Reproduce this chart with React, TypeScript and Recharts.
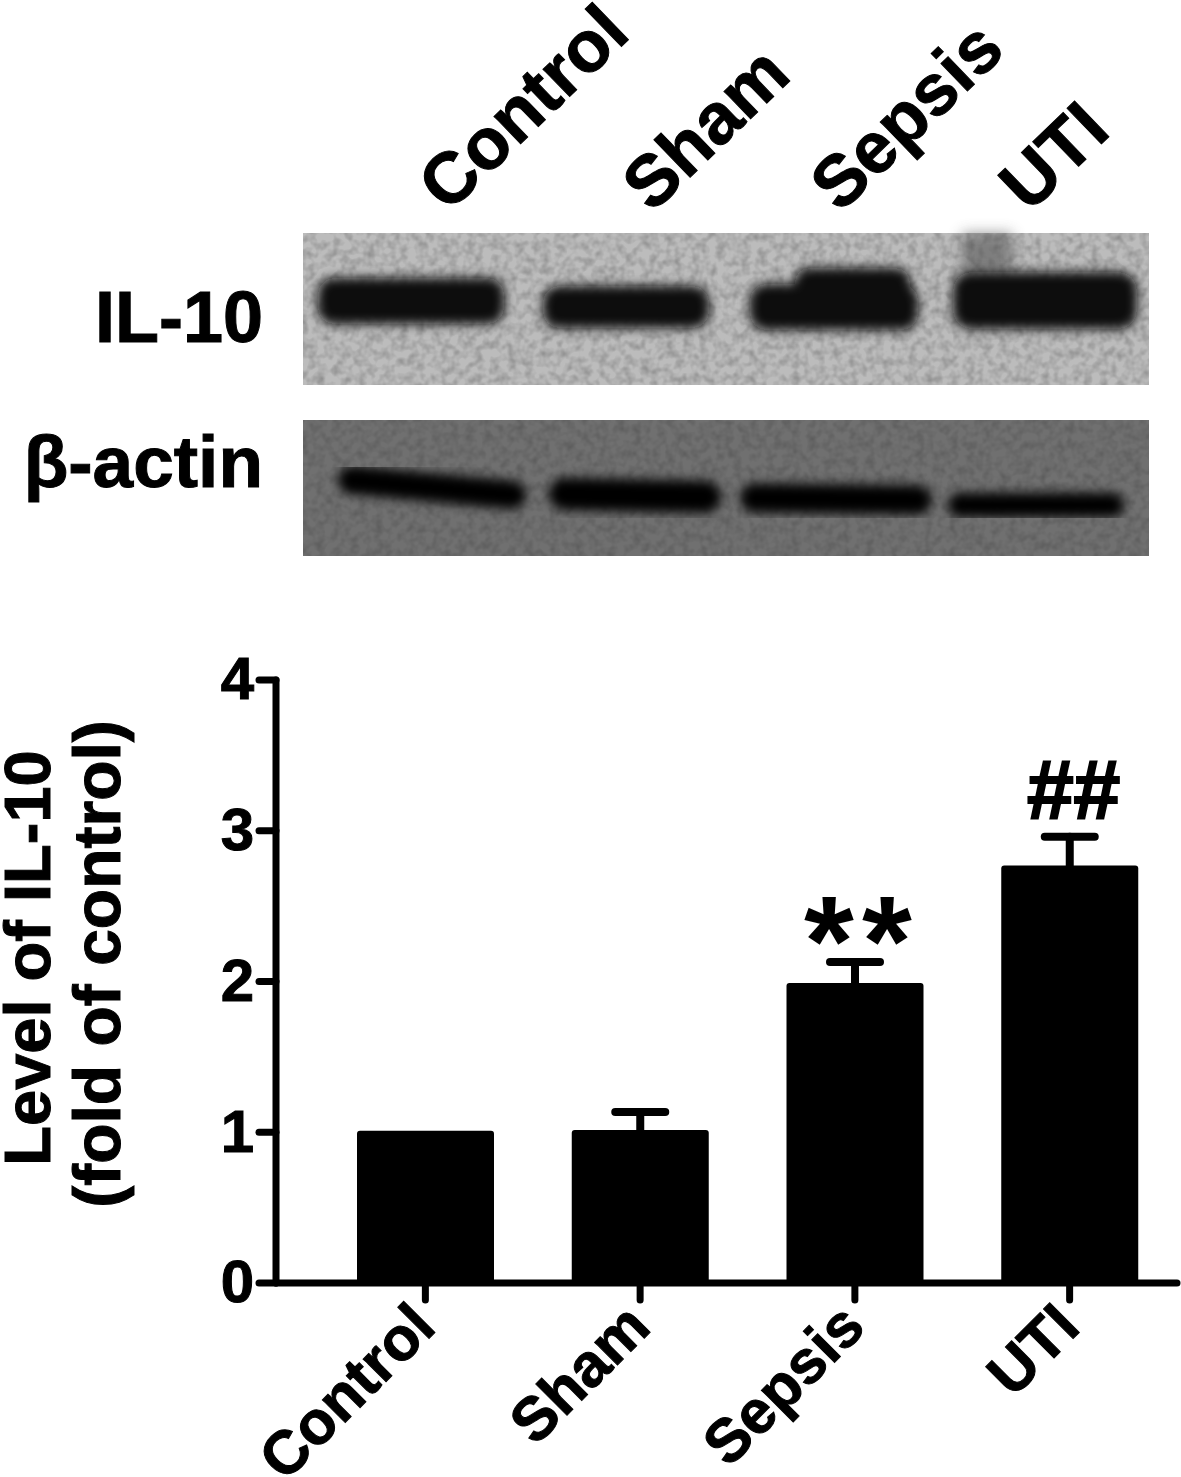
import React from "react";
import { ComposedChart, Bar, XAxis, YAxis, ErrorBar, ReferenceDot } from "recharts";

const categories = ["Control", "Sham", "Sepsis", "UTI"];
const values = [1.01, 1.015, 1.99, 2.77];
const errors = [0, 0.12, 0.14, 0.19];
const yTicks = [0, 1, 2, 3, 4];
const marks = [
  { category: "Sepsis", y: 1.864, text: "**" },
  { category: "UTI", y: 3.07, text: "##" },
];
const data = categories.map((c, i) => ({ name: c, value: values[i], err: errors[i] }));
const FONT = "'Liberation Sans', Arial, sans-serif";
const heavy = { fontFamily: FONT, fontWeight: 700, fill: "#000", stroke: "#000", strokeWidth: 1 };
const axisStroke = { stroke: "#000", strokeWidth: 7, strokeLinecap: "round" as const };

const XTick = (p: any) => (
  <g transform={`translate(${p.x - 10},${p.y + 5})`}>
    <text textAnchor="end" transform="rotate(-45)" fontSize={61} dy={32} {...heavy}>
      {p.payload.value}
    </text>
  </g>
);

const Blots = () => (
  <svg width={1181} height={620} style={{ position: "absolute", left: 0, top: 0 }}>
    <defs>
      <filter id="b1" x="-30%" y="-50%" width="160%" height="200%"><feGaussianBlur stdDeviation="7" /></filter>
      <filter id="b2" x="-20%" y="-50%" width="140%" height="200%"><feGaussianBlur stdDeviation="5.5" /></filter>
      <filter id="noise" x="0" y="0" width="100%" height="100%">
        <feTurbulence type="fractalNoise" baseFrequency="0.12" numOctaves={2} seed={4} />
        <feColorMatrix type="matrix" values="0 0 0 0 0  0 0 0 0 0  0 0 0 0 0  1.6 0 0 0 -0.6" />
      </filter>
    </defs>
    <rect x={303} y={233} width={846} height={152} fill="#bcbcbc" />
    <rect x={303} y={233} width={846} height={152} filter="url(#noise)" opacity={0.28} />
    <rect x={962} y={233} width={50} height={40} fill="#555" filter="url(#b1)" opacity={0.6} />
    <g filter="url(#b2)" fill="#080808">
      <rect x={318} y={278} width={186} height={46} rx={16} />
      <rect x={543} y={286} width={166} height={42} rx={16} />
      <rect x={750} y={284} width={168} height={46} rx={16} />
      <rect x={795} y={268} width={115} height={40} rx={14} />
      <rect x={953} y={272} width={184} height={57} rx={18} />
    </g>
    <rect x={303} y={420} width={846} height={136} fill="#707070" />
    <rect x={303} y={420} width={846} height={136} filter="url(#noise)" opacity={0.2} />
    <g filter="url(#b2)" stroke="#060606" fill="none" strokeLinecap="round">
      <line x1={352} y1={480} x2={512} y2={495} strokeWidth={28} />
      <line x1={565} y1={494} x2={705} y2={497} strokeWidth={32} />
      <line x1={755} y1={498} x2={917} y2={500} strokeWidth={29} />
      <line x1={960} y1={505} x2={1112} y2={505} strokeWidth={24} />
    </g>
    <g {...heavy}>
      <text x={263} y={342} textAnchor="end" fontSize={72}>IL-10</text>
      <text x={263} y={487} textAnchor="end" fontSize={73}>β-actin</text>
      <text transform="translate(448,214) rotate(-44)" fontSize={72}>Control</text>
      <text transform="translate(652,214) rotate(-44)" fontSize={72}>Sham</text>
      <text transform="translate(840,214) rotate(-44)" fontSize={72}>Sepsis</text>
      <text transform="translate(1029,214) rotate(-44)" fontSize={72}>UTI</text>
    </g>
  </svg>
);

export default function App() {
  return (
    <div style={{ position: "absolute", left: 0, top: 0, width: 1181, height: 1477 }}>
      <Blots />
      <div style={{ position: "absolute", left: 0, top: 0 }}>
        <ComposedChart width={1181} height={1477} data={data} margin={{ top: 680, right: 4, bottom: 0, left: 0 }}>
          <XAxis
            dataKey="name"
            padding={{ left: 42, right: 0 }}
            axisLine={axisStroke}
            tickLine={axisStroke}
            tickSize={17}
            height={194}
            interval={0}
            tick={<XTick />}
          />
          <YAxis
            type="number"
            domain={[0, 4]}
            ticks={yTicks}
            width={276}
            axisLine={axisStroke}
            tickLine={axisStroke}
            tickSize={17}
            tickMargin={5}
            tick={{ ...heavy, fontSize: 60, dy: -2 }}
            label={{ content: () => (
              <g {...heavy} textAnchor="middle">
                <text transform="translate(50,958) rotate(-90)" fontSize={65}>Level of IL-10</text>
                <text transform="translate(120,964) rotate(-90)" fontSize={66}>(fold of control)</text>
              </g>
            ) }}
          />
          <Bar dataKey="value" barSize={137} fill="#000" radius={3} isAnimationActive={false}>
            <ErrorBar dataKey="err" direction="y" width={25} stroke="#000" strokeWidth={8} strokeLinecap="round" isAnimationActive={false} />
          </Bar>
          {marks.map((m) => (
            <ReferenceDot key={m.category} x={m.category} y={m.y} r={0} shape={(p: any) => (
              m.text === "**"
                ? <text x={p.cx + 7} y={p.cy - 17} textAnchor="middle" fontSize={128} letterSpacing={8} fontFamily={FONT} fontWeight={700} fill="#000">{m.text}</text>
                : <text x={p.cx + 4} y={p.cy - 1} textAnchor="middle" fontSize={84} {...heavy} strokeWidth={2}>{m.text}</text>
            )} />
          ))}
        </ComposedChart>
      </div>
    </div>
  );
}
